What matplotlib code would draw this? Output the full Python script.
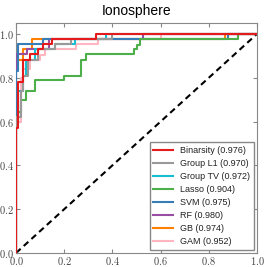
import matplotlib
matplotlib.use("Agg")
import matplotlib.pyplot as plt
from matplotlib.ticker import FuncFormatter

plt.rcParams['mathtext.fontset'] = 'cm'

names = ["Binarsity (0.976)", "Group L1 (0.970)", "Group TV (0.972)", "Lasso (0.904)",
         "SVM (0.975)", "RF (0.980)", "GB (0.974)", "GAM (0.952)"]
colors = ["#e41a1c", "#999999", "#17becf", "#4daf4a", "#377eb8", "#984ea3", "#ff7f00", "#ffb6c1"]

# ROC step points (fpr, tpr)
fpr_bin = [0, 0, 0.01, 0.01, 0.03, 0.03, 0.06, 0.06, 0.09, 0.09, 0.11, 0.11, 0.15, 0.15, 0.33, 0.33, 1]
tpr_bin = [0, 0.57, 0.57, 0.78, 0.78, 0.88, 0.88, 0.91, 0.91, 0.93, 0.93, 0.955, 0.955, 0.975, 0.975, 1, 1]

fpr_gl1 = [0, 0, 0.02, 0.02, 0.03, 0.03, 0.05, 0.05, 0.09, 0.09, 0.16, 0.16, 0.23, 0.23, 0.40, 0.40, 1]
tpr_gl1 = [0, 0.62, 0.62, 0.74, 0.74, 0.81, 0.81, 0.88, 0.88, 0.93, 0.93, 0.955, 0.955, 0.975, 0.975, 1, 1]

fpr_gtv = [0, 0, 0.01, 0.01, 0.03, 0.03, 0.04, 0.04, 0.08, 0.08, 0.16, 0.16, 0.245, 0.245, 0.375, 0.375, 1]
tpr_gtv = [0, 0.6, 0.6, 0.74, 0.74, 0.81, 0.81, 0.88, 0.88, 0.93, 0.93, 0.955, 0.955, 0.975, 0.975, 1, 1]

fpr_las = [0, 0, 0.01, 0.01, 0.02, 0.02, 0.04, 0.04, 0.08, 0.08, 0.20, 0.20, 0.27, 0.27, 0.29, 0.29,
           0.49, 0.49, 0.50, 0.50, 0.515, 0.515, 0.92, 0.92, 1]
tpr_las = [0, 0.62, 0.62, 0.645, 0.645, 0.70, 0.70, 0.74, 0.74, 0.79, 0.79, 0.81, 0.81, 0.88, 0.88, 0.907,
           0.907, 0.93, 0.93, 0.95, 0.95, 0.975, 0.975, 1, 1]

fpr_svm = [0, 0, 0.01, 0.01, 0.11, 0.11, 0.88, 0.88, 1]
tpr_svm = [0, 0.83, 0.83, 0.955, 0.955, 0.975, 0.975, 1, 1]

fpr_rf = [0, 0, 0.045, 0.045, 0.135, 0.135, 0.527, 0.527, 1]
tpr_rf = [0, 0.907, 0.907, 0.93, 0.93, 0.975, 0.975, 1, 1]

fpr_gb = [0, 0, 0.03, 0.03, 0.068, 0.068, 0.867, 0.867, 1]
tpr_gb = [0, 0.88, 0.88, 0.93, 0.93, 0.975, 0.975, 1, 1]

fpr_gam = [0, 0, 0.02, 0.02, 0.03, 0.03, 0.06, 0.06, 0.10, 0.10, 0.12, 0.12, 0.25, 0.25, 0.34, 0.34, 0.6, 0.6, 1]
tpr_gam = [0, 0.6, 0.6, 0.8, 0.8, 0.84, 0.84, 0.88, 0.88, 0.905, 0.905, 0.93, 0.93, 0.955, 0.955, 0.975, 0.975, 1, 1]

fprs = [fpr_bin, fpr_gl1, fpr_gtv, fpr_las, fpr_svm, fpr_rf, fpr_gb, fpr_gam]
tprs = [tpr_bin, tpr_gl1, tpr_gtv, tpr_las, tpr_svm, tpr_rf, tpr_gb, tpr_gam]

fig = plt.figure(figsize=(2.66, 2.67), dpi=100)
ax = fig.add_axes([16 / 266, 1 - 253 / 267, 241 / 266, 230 / 267])

# draw in reverse so Binarsity is on top
for i in reversed(range(len(names))):
    ax.plot(fprs[i], tprs[i], color=colors[i], lw=1.5, label=names[i], zorder=3 + (len(names) - i))
ax.plot([0, 1], [0, 1], "k--", lw=1.5, dashes=(3, 2), zorder=2)

ax.set_xlim(0, 1)
ax.set_ylim(0, 1.05)
ax.set_xticks([0, 0.2, 0.4, 0.6, 0.8, 1.0])
ax.set_yticks([0, 0.2, 0.4, 0.6, 0.8, 1.0])
fmt = FuncFormatter(lambda v, p: "$%.1f$" % v)
ax.xaxis.set_major_formatter(fmt)
ax.yaxis.set_major_formatter(fmt)
ax.tick_params(direction="in", top=True, right=True, labelsize=7.5, length=3, color="#888888",
               labelcolor="#444444", pad=1.5)
for s in ax.spines.values():
    s.set_color("#888888")

ax.set_title("Ionosphere", fontsize=10, family="Liberation Sans", pad=6)

handles, labels = ax.get_legend_handles_labels()
order = [labels.index(n) for n in names]
leg = ax.legend([handles[k] for k in order], [labels[k] for k in order], loc="lower right",
                fancybox=False, edgecolor="#888888", framealpha=1,
                handlelength=2.2, labelspacing=0.45, borderpad=0.4, borderaxespad=0.35,
                prop={"family": "Liberation Sans", "size": 6.5})
leg.get_frame().set_linewidth(1.0)
for t in leg.get_texts():
    t.set_color("#222222")

fig.savefig("out.png", dpi=100)
